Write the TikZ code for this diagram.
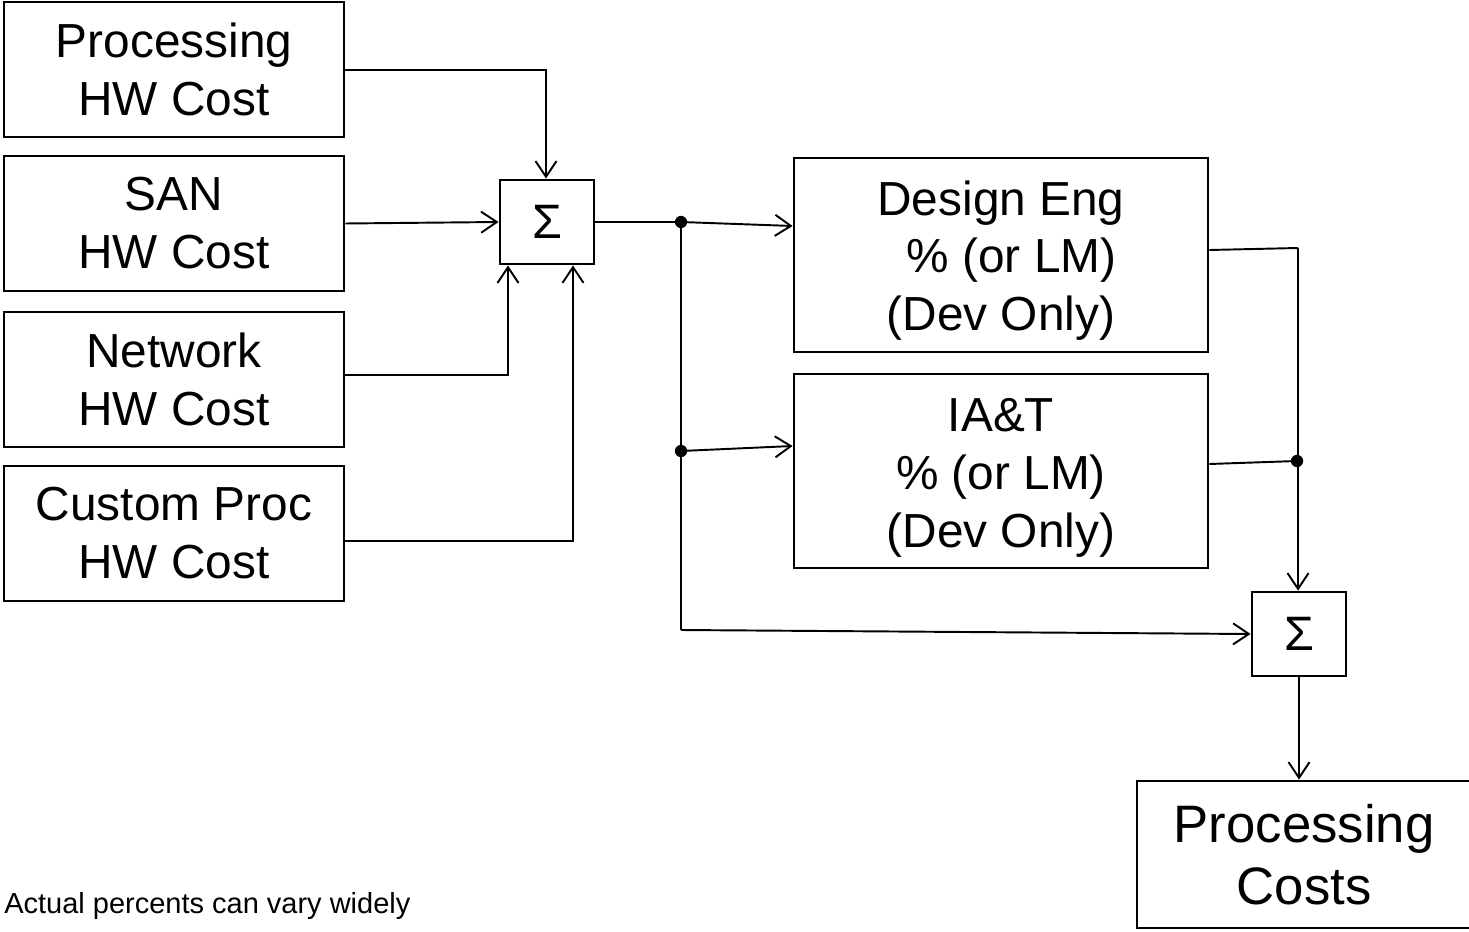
\documentclass[tikz,border=0pt]{standalone}
\usepackage{fontspec}
\setmainfont{Liberation Sans}
\usetikzlibrary{arrows.meta}
\begin{document}
\begin{tikzpicture}[x=0.02cm,y=-0.02cm,
  blk/.style={draw,line width=1.6pt,rectangle,inner sep=0pt,align=center,
    font=\fontsize{27.2}{33}\selectfont},
  sumbox/.style={draw,line width=1.6pt,rectangle,inner sep=0pt,
    minimum width=94*0.02cm,minimum height=84*0.02cm,font=\fontsize{27.5}{33}\selectfont},
  conn/.style={line width=1.1pt},
  arr/.style={conn,-{Straight Barb[length=9pt,width=12pt,line width=1.1pt]}},
  jdot/.style={circle,fill=black,inner sep=0pt,minimum size=7pt}]
\useasboundingbox (0,0) rectangle (1469,932);
\fill[white] (0,0) rectangle (1469,932);
% input boxes
\node[blk,minimum width=340*0.02cm,minimum height=135*0.02cm] (p) at (174,69.5) {Processing\\HW Cost};
\node[blk,minimum width=340*0.02cm,minimum height=135*0.02cm] (s) at (174,223.5) {SAN\\HW Cost};
\node[blk,minimum width=340*0.02cm,minimum height=135*0.02cm] (n) at (174,379.5) {Network\\HW Cost};
\node[blk,minimum width=340*0.02cm,minimum height=135*0.02cm] (c) at (174,533.5) {Custom Proc\\HW Cost};
% first sum
\node[sumbox] (s1) at (547,222) {Σ};
% percentage boxes
\node[blk,minimum width=414*0.02cm,minimum height=194*0.02cm] (d) at (1001,255) {\rule{0pt}{0.96em}Design Eng\\\ \,\% (or LM)\\(Dev Only)};
\node[blk,minimum width=414*0.02cm,minimum height=194*0.02cm] (ia) at (1001,471) {\rule{0pt}{1.0em}IA\&T\\\% (or LM)\\(Dev Only)};
% second sum
\node[sumbox] (s2) at (1299,634) {Σ};
% output
\node[blk,minimum width=334*0.02cm,minimum height=147*0.02cm,font=\fontsize{30}{35}\selectfont] (pc) at (1304,854.5) {Processing\\Costs};
% note
\node[anchor=base west,inner sep=0pt,font=\fontsize{16.5}{18}\selectfont] (note) at (4,913) {Actual percents can vary widely};
% junction points
\node[jdot] (j1) at (681,222) {};
\node[jdot] (j2) at (681,451) {};
\node[jdot] (j3) at (1297,461) {};
\coordinate (k1) at (546,70);
\coordinate (k3) at (508,375);
\coordinate (k4) at (573,541);
\coordinate (k5) at (681,630);
\coordinate (k6) at (1298,248);
% connectors into first sum
\draw[arr] (p.east |- k1) -- (k1) -- (s1.north -| k1);
\draw[arr] (s.east) -- (s1.west);
\draw[arr] (n.east |- k3) -- (k3) -- (s1.south -| k3);
\draw[arr] (c.east |- k4) -- (k4) -- (s1.south -| k4);
% from first sum
\draw[conn] (s1.east) -- (j1.center);
\draw[arr] (j1.center) -- (d.west |- 0,226);
\draw[conn] (j1.center) -- (k5);
\draw[arr] (j2.center) -- (ia.west |- 0,446);
\draw[arr] (k5) -- (s2.west);
% into second sum
\draw[conn] (d.east |- 0,250) -- (k6);
\draw[arr] (k6) -- (s2.north -| k6);
\draw[conn] (ia.east |- 0,464) -- (j3.center);
% output
\draw[arr] (s2.south) -- (pc.north -| s2.south);
\end{tikzpicture}
\end{document}
